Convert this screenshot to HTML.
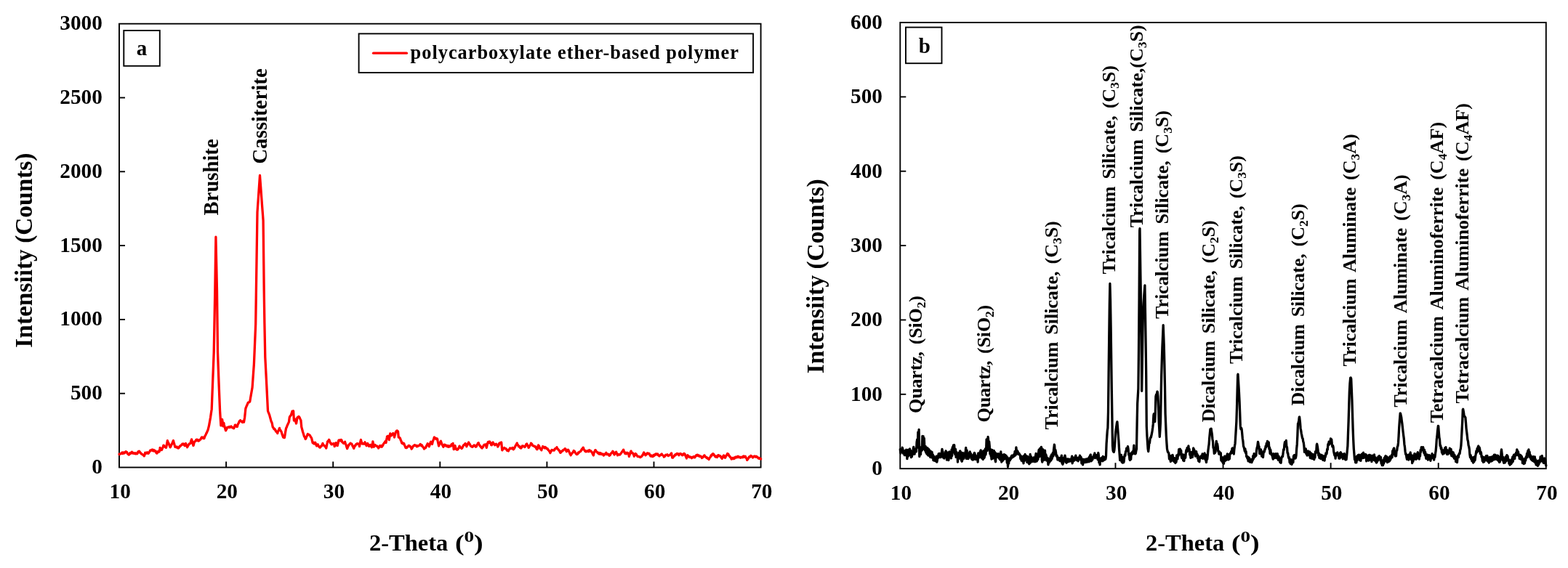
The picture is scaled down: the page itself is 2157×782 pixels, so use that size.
<!DOCTYPE html>
<html lang="en">
<head>
<meta charset="utf-8">
<title>XRD patterns</title>
<style>
html,body{margin:0;padding:0;background:#fff;}
body{width:2157px;height:782px;overflow:hidden;font-family:"Liberation Serif", serif;}
svg{display:block;}
</style>
</head>
<body>
<svg width="2157" height="782" viewBox="0 0 2157 782" font-family='"Liberation Serif", serif' font-weight="bold" fill="#000">
<rect width="2157" height="782" fill="#fff"/>
<rect x="164.0" y="32.7" width="882.60" height="610.80" fill="none" stroke="#000" stroke-width="1.9"/>
<g stroke="#000" stroke-width="1.9">
<line x1="311.10" y1="643.5" x2="311.10" y2="635.5"/>
<line x1="458.20" y1="643.5" x2="458.20" y2="635.5"/>
<line x1="605.30" y1="643.5" x2="605.30" y2="635.5"/>
<line x1="752.40" y1="643.5" x2="752.40" y2="635.5"/>
<line x1="899.50" y1="643.5" x2="899.50" y2="635.5"/>
<line x1="164.0" y1="541.70" x2="172.0" y2="541.70"/>
<line x1="164.0" y1="439.90" x2="172.0" y2="439.90"/>
<line x1="164.0" y1="338.10" x2="172.0" y2="338.10"/>
<line x1="164.0" y1="236.30" x2="172.0" y2="236.30"/>
<line x1="164.0" y1="134.50" x2="172.0" y2="134.50"/>
</g>
<text x="165.20" y="686.2" font-size="29" text-anchor="middle" textLength="29.29" lengthAdjust="spacingAndGlyphs">10</text>
<text x="312.30" y="686.2" font-size="29" text-anchor="middle" textLength="29.29" lengthAdjust="spacingAndGlyphs">20</text>
<text x="459.40" y="686.2" font-size="29" text-anchor="middle" textLength="29.29" lengthAdjust="spacingAndGlyphs">30</text>
<text x="606.50" y="686.2" font-size="29" text-anchor="middle" textLength="29.29" lengthAdjust="spacingAndGlyphs">40</text>
<text x="753.60" y="686.2" font-size="29" text-anchor="middle" textLength="29.29" lengthAdjust="spacingAndGlyphs">50</text>
<text x="900.70" y="686.2" font-size="29" text-anchor="middle" textLength="29.29" lengthAdjust="spacingAndGlyphs">60</text>
<text x="1047.80" y="686.2" font-size="29" text-anchor="middle" textLength="29.29" lengthAdjust="spacingAndGlyphs">70</text>
<text x="140.9" y="652.00" font-size="29" text-anchor="end" textLength="14.64" lengthAdjust="spacingAndGlyphs">0</text>
<text x="140.9" y="550.20" font-size="29" text-anchor="end" textLength="43.94" lengthAdjust="spacingAndGlyphs">500</text>
<text x="140.9" y="448.40" font-size="29" text-anchor="end" textLength="58.58" lengthAdjust="spacingAndGlyphs">1000</text>
<text x="140.9" y="346.60" font-size="29" text-anchor="end" textLength="58.58" lengthAdjust="spacingAndGlyphs">1500</text>
<text x="140.9" y="244.80" font-size="29" text-anchor="end" textLength="58.58" lengthAdjust="spacingAndGlyphs">2000</text>
<text x="140.9" y="143.00" font-size="29" text-anchor="end" textLength="58.58" lengthAdjust="spacingAndGlyphs">2500</text>
<text x="140.9" y="41.20" font-size="29" text-anchor="end" textLength="58.58" lengthAdjust="spacingAndGlyphs">3000</text>
<polyline fill="none" stroke="#ff0000" stroke-width="3.3" stroke-linejoin="round" stroke-linecap="round" points="164.0,625.1 164.0,625.6 164.7,625.4 165.4,624.7 166.1,624.8 166.8,624.5 166.9,624.2 167.5,623.3 168.2,623.0 168.9,624.5 169.6,623.2 170.3,623.0 170.4,623.5 171.0,624.0 171.7,622.6 172.4,622.8 173.1,621.6 173.2,621.6 173.8,622.5 174.5,622.4 175.2,624.0 175.9,625.2 176.6,625.4 177.0,625.8 177.3,626.1 178.0,625.4 178.7,623.8 179.4,624.5 180.1,623.6 180.7,623.0 180.8,622.6 181.5,622.2 182.2,624.0 182.9,623.3 183.6,624.0 184.2,623.7 184.3,624.4 185.0,624.2 185.7,624.7 186.4,623.8 187.1,624.7 187.8,624.1 188.2,624.2 188.5,624.8 189.2,624.1 189.9,622.1 190.6,621.5 191.3,621.1 191.7,621.4 192.0,622.7 192.7,622.6 193.4,623.8 194.1,624.2 194.5,625.0 194.8,625.2 195.5,625.4 196.2,625.7 196.9,626.5 197.6,627.0 198.3,627.8 198.6,627.3 199.0,626.0 199.7,623.7 199.7,623.1 200.4,623.7 201.1,624.2 201.8,623.6 202.5,622.7 203.2,624.1 203.9,624.4 204.3,623.5 204.6,623.9 205.3,622.4 206.0,621.7 206.7,620.0 207.2,619.9 207.4,620.5 208.1,620.0 208.8,619.4 209.5,619.0 210.2,620.6 210.6,619.9 210.9,620.9 211.6,619.4 212.3,621.1 213.0,620.6 213.5,621.0 213.7,620.7 214.4,621.9 215.1,623.8 215.3,623.5 215.8,624.0 216.5,622.0 217.2,622.8 217.9,621.4 218.6,622.1 219.3,621.6 219.3,621.3 220.0,617.5 220.1,616.4 220.7,617.8 221.4,617.8 222.1,619.6 222.7,619.3 222.8,618.8 223.5,616.9 224.2,615.7 224.9,613.1 225.0,613.5 225.6,613.4 226.3,614.4 227.0,615.4 227.7,615.1 228.4,615.8 228.5,616.4 229.1,613.6 229.8,609.7 230.4,606.6 230.5,607.4 231.2,609.2 231.9,610.0 232.6,611.8 233.3,613.6 234.0,615.5 234.2,615.8 234.7,615.0 235.4,613.4 236.1,611.9 236.8,610.7 237.5,608.8 238.2,607.1 238.5,606.6 238.9,608.4 239.6,610.7 240.3,613.4 240.6,614.7 241.0,615.4 241.7,615.3 242.4,615.7 243.1,615.0 243.8,616.1 244.5,616.8 245.2,617.0 245.2,616.0 245.9,616.5 246.6,615.8 247.3,614.2 248.0,614.4 248.6,613.5 248.7,613.4 249.4,613.0 250.1,611.8 250.8,611.8 250.9,611.2 251.5,612.0 252.2,610.9 252.9,611.4 253.6,612.9 254.3,613.8 254.4,612.9 255.0,611.2 255.5,610.6 255.7,611.0 256.4,612.9 257.1,614.3 257.6,615.8 257.8,615.2 258.5,613.9 259.2,612.8 259.9,611.8 260.1,611.2 260.6,610.8 261.3,610.7 261.9,610.6 262.0,610.5 262.7,607.2 263.4,605.7 263.6,604.9 264.1,607.1 264.8,609.2 265.5,611.6 265.9,613.5 266.2,613.2 266.9,610.2 267.6,608.1 267.6,608.3 268.3,607.6 269.0,607.3 269.7,605.6 270.4,605.2 270.5,605.5 271.1,605.3 271.8,606.6 272.5,606.0 273.2,607.1 273.9,606.0 274.0,606.6 274.6,605.6 275.3,605.3 276.0,604.8 276.7,603.3 277.4,602.1 277.4,602.6 278.1,602.0 278.8,602.9 279.5,602.3 280.2,603.6 280.9,603.2 280.9,603.6 281.6,601.2 282.3,599.8 283.0,598.7 283.7,597.1 283.7,596.8 284.4,595.8 285.1,594.0 285.8,592.5 286.0,592.2 286.5,590.2 287.2,587.3 287.8,584.7 287.9,583.9 288.6,580.0 289.3,576.1 289.5,575.0 290.0,571.5 290.7,566.8 291.2,563.4 291.4,558.2 292.1,539.9 292.8,521.7 293.5,503.4 294.2,485.2 294.2,485.2 294.9,447.9 295.6,410.6 295.8,400.0 296.3,366.5 296.9,326.2 297.0,330.9 297.7,363.1 298.4,395.4 298.5,400.0 299.1,451.0 299.5,485.0 299.8,493.3 300.5,512.5 301.1,529.0 301.2,531.5 301.9,548.7 302.6,566.0 302.6,566.0 303.3,576.8 303.9,585.9 304.0,585.4 304.7,581.6 305.4,578.9 305.6,577.3 306.1,580.3 306.8,586.5 306.8,586.8 307.5,584.1 307.9,582.4 308.2,584.3 308.9,587.2 309.1,587.6 309.6,589.7 310.3,592.0 310.6,592.8 311.0,590.9 311.7,590.9 312.4,588.6 312.5,588.8 313.1,588.2 313.8,588.6 314.5,588.0 315.2,587.5 315.4,587.6 315.9,588.5 316.6,587.8 317.3,587.2 318.0,586.9 318.3,587.4 318.7,588.4 319.4,588.1 320.1,589.1 320.8,588.8 321.5,589.0 321.7,589.7 322.2,588.4 322.9,586.7 323.2,585.3 323.6,585.0 324.3,586.5 325.0,587.1 325.7,587.3 326.3,587.1 326.4,587.4 327.1,584.4 327.8,583.3 328.1,582.4 328.5,582.2 329.2,580.1 329.9,579.3 330.4,579.0 330.6,578.7 331.3,579.8 332.0,580.1 332.7,580.7 332.7,580.7 333.4,581.4 334.1,580.0 334.8,580.5 335.5,581.1 335.5,581.3 336.2,577.3 336.6,575.0 336.9,572.0 337.6,565.3 337.9,562.3 338.3,561.5 339.0,559.5 339.7,558.1 340.4,556.3 341.1,554.7 341.4,554.2 341.8,553.8 342.5,553.9 343.2,553.4 343.7,553.1 343.9,551.9 344.6,547.8 345.3,543.8 346.0,539.8 346.7,535.8 347.1,533.5 347.4,529.3 348.1,519.5 348.8,509.7 349.4,501.3 349.5,498.9 350.2,482.1 350.9,465.2 351.6,448.4 351.7,446.0 352.3,406.6 352.4,400.0 353.0,359.6 353.7,312.4 354.0,292.2 354.4,286.4 355.1,276.3 355.8,266.1 356.5,256.0 357.2,245.8 357.5,241.5 357.9,247.0 358.6,256.4 359.3,265.8 360.0,275.3 360.7,284.8 361.4,294.2 362.1,303.7 362.1,303.7 362.8,365.0 363.2,400.0 363.5,419.7 363.9,446.0 364.2,461.3 364.8,492.0 364.9,493.9 365.6,507.6 366.3,521.2 366.7,529.0 367.0,535.1 367.7,549.4 368.4,563.6 368.5,565.7 369.1,567.3 369.8,569.0 370.5,571.0 370.8,571.5 371.2,573.2 371.9,575.7 372.6,578.4 372.9,579.6 373.3,580.5 374.0,582.0 374.3,583.0 374.7,585.2 375.3,588.2 375.4,588.0 376.1,588.9 376.8,590.5 377.5,590.2 378.1,591.7 378.2,591.2 378.9,592.1 379.6,594.1 380.3,594.0 381.0,594.5 381.6,596.3 381.7,596.6 382.4,593.8 383.1,592.9 383.8,591.2 384.5,589.4 384.5,590.1 385.2,591.6 385.9,592.3 386.6,593.9 386.8,594.0 387.3,595.1 388.0,597.6 388.7,599.4 389.4,601.6 389.6,602.0 390.1,601.5 390.8,602.7 391.4,602.6 391.5,602.0 392.2,597.4 392.9,593.2 393.5,589.9 393.6,589.6 394.3,588.2 395.0,586.2 395.7,584.6 395.8,584.7 396.4,583.1 397.1,581.7 397.5,580.7 397.8,578.3 398.3,574.4 398.5,574.0 399.2,573.0 399.9,572.0 400.4,571.5 400.6,570.7 401.3,568.6 402.0,566.1 402.1,566.3 402.7,566.1 403.4,566.0 403.6,565.8 404.1,574.2 404.4,579.0 404.8,578.7 405.5,577.6 406.1,577.3 406.2,577.9 406.9,581.0 407.5,583.0 407.6,582.8 408.3,578.7 409.0,575.0 409.0,574.9 409.7,574.5 410.4,574.5 410.5,573.6 411.1,573.5 411.8,574.3 412.4,575.5 412.5,575.9 413.2,577.4 413.9,578.9 413.9,579.0 414.6,586.0 414.7,587.6 415.3,589.9 416.0,592.5 416.5,594.5 416.7,595.1 417.4,597.2 418.1,599.6 418.5,600.9 418.8,601.2 419.5,602.5 420.2,604.3 420.2,604.6 420.9,603.6 421.6,601.3 422.2,600.3 422.3,600.3 423.0,598.2 423.4,597.4 423.7,598.3 424.4,598.3 425.1,598.3 425.7,599.1 425.8,598.9 426.5,599.6 427.2,601.2 427.9,602.1 428.6,603.2 428.6,603.1 429.3,606.2 430.0,609.1 430.1,609.5 430.7,610.1 431.4,609.2 432.0,610.1 432.1,611.0 432.8,609.7 433.5,609.6 433.7,609.3 434.2,610.4 434.9,612.6 435.5,613.5 435.6,614.0 436.3,612.8 437.0,612.0 437.2,611.8 437.7,613.1 438.4,614.4 439.1,615.0 439.5,615.8 439.8,616.1 440.5,616.1 441.2,614.7 441.9,614.0 442.4,614.1 442.6,613.2 443.3,612.2 443.9,610.4 444.0,610.9 444.7,612.5 445.4,613.1 446.1,613.3 446.4,614.1 446.8,614.2 447.5,615.0 448.2,615.8 448.7,617.0 448.9,616.2 449.6,612.7 450.3,609.2 450.4,608.3 451.0,607.4 451.7,607.4 452.4,605.5 452.7,605.5 453.1,606.3 453.8,608.6 454.5,610.1 454.5,609.6 455.2,610.0 455.9,611.8 456.6,611.3 456.8,611.8 457.3,611.2 458.0,611.3 458.7,611.1 459.1,610.6 459.4,610.9 460.1,613.9 460.2,614.7 460.8,612.9 461.5,611.0 461.9,609.7 462.2,609.6 462.9,611.5 463.6,613.4 464.2,613.5 464.3,613.1 465.0,610.3 465.7,606.9 466.0,606.0 466.4,605.9 467.1,606.7 467.7,606.6 467.8,605.8 468.5,606.9 469.2,606.4 469.4,605.5 469.9,605.8 470.6,608.4 471.2,608.9 471.3,608.8 472.0,610.0 472.7,610.5 472.9,610.1 473.4,609.1 474.1,609.2 474.6,608.3 474.8,609.2 475.5,611.3 476.2,613.0 476.9,615.6 477.5,617.0 477.6,617.7 478.3,615.9 479.0,614.4 479.7,612.6 479.8,612.9 480.4,612.2 481.1,611.1 481.8,610.8 482.1,610.1 482.5,610.8 483.2,611.1 483.9,611.2 484.2,611.8 484.6,613.0 485.3,614.5 486.0,615.4 486.5,617.0 486.7,617.3 487.4,615.6 488.1,613.6 488.4,613.5 488.8,613.8 489.5,611.9 490.2,611.5 490.9,611.5 491.3,610.6 491.6,610.9 492.3,611.0 493.0,611.3 493.6,611.2 493.7,611.5 494.4,613.9 494.5,614.7 495.1,611.6 495.8,608.2 496.5,605.5 496.5,605.9 497.2,608.1 497.9,609.8 498.2,610.6 498.6,611.1 499.3,610.7 500.0,610.6 500.5,611.2 500.7,610.8 501.4,611.1 502.1,608.8 502.2,609.5 502.8,610.8 503.5,612.0 504.0,613.5 504.2,613.7 504.9,611.7 505.6,610.5 505.7,610.6 506.3,611.7 507.0,613.4 507.4,614.1 507.7,614.5 508.4,613.3 509.1,613.9 509.7,612.9 509.8,612.4 510.5,613.8 511.2,614.9 511.4,615.8 511.9,612.8 512.6,610.1 512.9,607.8 513.3,610.2 514.0,613.0 514.3,615.3 514.7,614.1 515.4,613.3 516.0,612.4 516.1,612.9 516.8,613.6 517.5,613.9 518.2,614.1 518.3,614.1 518.9,614.2 519.6,615.5 520.3,615.9 520.6,617.0 521.0,616.4 521.7,615.3 522.4,614.1 522.4,613.6 523.1,613.8 523.8,614.9 524.5,613.6 525.2,615.2 525.3,614.7 525.9,614.3 526.6,613.3 527.3,611.5 527.6,611.2 528.0,610.6 528.7,609.6 529.4,608.7 529.9,607.8 530.1,608.8 530.8,609.4 531.0,609.5 531.5,606.5 532.2,602.8 532.5,600.9 532.9,600.7 533.6,600.6 533.9,600.3 534.3,602.3 535.0,603.6 535.3,605.5 535.7,603.3 536.4,599.1 536.8,596.8 537.1,597.4 537.8,598.6 538.5,599.7 538.5,599.6 539.2,598.2 539.9,597.9 540.2,597.4 540.6,596.6 541.3,597.8 541.9,598.0 542.0,598.7 542.5,602.0 542.7,601.2 543.4,598.6 544.1,596.0 544.2,595.1 544.8,594.9 545.5,593.1 546.2,593.5 546.3,592.8 546.9,593.5 547.5,594.0 547.6,595.0 548.3,602.0 548.3,602.0 549.0,602.4 549.7,602.5 550.4,603.7 550.6,603.7 551.1,605.6 551.8,606.9 552.5,609.4 552.9,610.1 553.2,610.4 553.9,609.6 554.6,611.1 555.3,610.7 555.8,610.6 556.0,611.8 556.7,613.2 557.4,615.0 558.1,616.4 558.1,616.1 558.8,616.6 559.5,616.5 560.2,616.0 560.4,615.3 560.9,614.6 561.6,614.5 562.1,613.5 562.3,613.7 563.0,613.5 563.7,614.0 564.4,615.3 564.4,614.7 565.1,615.9 565.8,616.9 566.1,618.1 566.5,617.5 567.2,616.5 567.9,615.1 568.4,614.1 568.6,613.9 569.3,613.8 570.0,612.8 570.7,612.7 570.7,612.7 571.4,613.6 572.1,613.4 572.8,613.3 573.0,614.1 573.5,614.9 574.2,614.5 574.9,613.8 575.3,614.1 575.6,613.7 576.3,613.6 577.0,613.3 577.7,612.1 578.2,612.4 578.4,611.5 579.1,612.3 579.8,613.7 580.5,613.0 580.5,613.5 581.2,614.6 581.9,615.4 582.6,616.4 583.3,617.4 583.4,618.1 584.0,617.5 584.7,616.6 585.4,616.0 585.7,616.4 586.1,615.0 586.8,613.5 587.5,612.3 588.0,611.2 588.2,610.7 588.9,611.7 589.6,613.5 590.3,614.7 590.3,614.5 591.0,613.0 591.7,610.3 592.4,608.7 592.6,608.3 593.1,609.0 593.8,609.4 594.3,611.2 594.5,611.4 595.2,608.3 595.9,606.2 596.0,606.0 596.6,604.5 597.3,602.1 597.5,602.0 598.0,602.8 598.7,603.1 599.4,603.5 599.5,604.3 600.1,603.5 600.8,604.6 601.5,604.1 601.6,604.3 602.2,607.5 602.9,610.6 603.5,613.5 603.6,614.0 604.3,611.7 605.0,610.4 605.0,610.6 605.7,608.6 606.4,607.8 606.4,607.2 607.1,609.5 607.8,611.2 608.1,612.4 608.5,612.4 609.2,613.9 609.9,615.4 610.1,614.7 610.6,614.3 611.3,612.3 611.6,612.9 612.0,612.3 612.7,612.8 613.4,613.4 613.9,614.3 614.1,613.4 614.8,613.4 615.5,614.6 616.2,615.1 616.9,613.7 617.3,614.3 617.6,615.2 618.3,614.0 619.0,614.5 619.7,614.4 620.2,613.5 620.4,614.1 621.1,611.8 621.8,611.4 622.5,611.2 623.1,610.4 623.2,611.7 623.9,615.6 624.2,618.7 624.6,617.2 625.3,615.7 625.7,613.5 626.0,613.6 626.7,616.5 627.1,618.1 627.4,618.0 628.1,618.7 628.8,619.3 629.5,618.1 629.8,618.7 630.2,618.2 630.9,616.8 631.6,615.6 632.1,614.1 632.3,614.5 633.0,616.0 633.7,615.8 634.4,616.7 635.0,617.6 635.1,616.8 635.8,616.8 636.5,615.2 637.2,613.9 637.9,612.7 638.4,612.4 638.6,612.5 639.3,611.7 640.0,611.2 640.1,610.6 640.7,611.8 641.4,613.6 641.9,614.7 642.1,613.5 642.8,613.1 643.5,610.9 644.2,610.0 644.7,608.9 644.9,609.7 645.6,610.9 646.3,611.5 647.0,613.0 647.1,613.5 647.7,614.4 648.4,614.3 649.1,615.1 649.8,615.4 649.9,614.7 650.5,614.2 651.2,614.5 651.9,613.7 652.2,612.9 652.6,613.0 653.3,613.8 654.0,613.9 654.5,615.3 654.7,614.8 655.4,614.7 656.1,612.4 656.8,612.0 657.5,610.1 658.0,610.1 658.2,609.6 658.9,611.9 659.6,612.6 660.3,614.1 660.3,613.5 661.0,614.3 661.7,615.7 662.4,616.4 663.1,616.0 663.2,617.0 663.8,615.5 664.5,615.5 665.2,613.3 665.9,612.7 666.0,612.4 666.6,612.1 667.3,612.6 668.0,612.0 668.3,611.8 668.7,614.1 669.3,616.4 669.4,616.0 670.1,612.8 670.8,610.3 671.2,608.9 671.5,608.4 672.2,609.5 672.9,608.2 673.6,608.0 674.1,608.9 674.3,610.0 675.0,610.1 675.7,612.4 676.4,612.1 676.4,612.9 677.1,611.3 677.8,609.2 678.1,608.9 678.5,610.1 679.2,610.7 679.9,611.8 680.4,612.4 680.6,612.8 681.3,612.7 682.0,611.3 682.7,611.4 682.7,611.2 683.4,612.1 684.1,612.6 684.8,615.0 685.0,614.7 685.5,613.8 686.2,612.4 686.8,610.6 686.9,610.2 687.6,610.2 688.3,609.7 689.0,609.5 689.6,608.9 689.7,609.2 690.4,616.0 690.8,619.9 691.1,619.5 691.8,617.8 692.5,617.9 693.2,617.4 693.7,616.4 693.9,616.4 694.6,617.4 695.3,617.8 696.0,618.1 696.0,617.7 696.7,618.5 697.4,620.2 698.1,619.6 698.8,620.3 699.4,621.0 699.5,620.1 700.2,619.2 700.9,618.0 701.6,617.9 701.7,617.0 702.3,617.3 703.0,617.5 703.7,617.6 704.4,616.8 705.1,617.2 705.2,616.4 705.8,617.7 706.3,618.7 706.5,618.2 707.2,617.9 707.9,616.3 708.6,615.1 709.2,613.5 709.3,613.4 710.0,612.6 710.7,610.9 711.3,610.1 711.4,611.3 712.1,612.4 712.8,612.9 713.2,614.1 713.5,614.9 714.2,614.4 714.9,614.8 715.6,616.5 716.3,616.2 716.7,617.0 717.0,616.6 717.7,616.0 718.4,614.0 719.0,614.1 719.1,614.6 719.8,614.0 720.5,614.6 721.2,614.7 721.9,615.3 721.9,615.7 722.6,614.6 723.3,613.0 724.0,611.5 724.7,610.9 724.7,611.2 725.4,612.6 726.1,613.7 726.8,615.2 727.1,616.4 727.5,616.1 728.2,614.6 728.9,613.5 729.6,612.4 730.3,611.2 730.5,610.1 731.0,610.6 731.7,611.3 732.4,612.6 732.8,613.5 733.1,613.6 733.8,613.9 734.5,614.2 735.2,614.1 735.9,615.2 736.3,614.7 736.6,614.8 737.3,616.1 738.0,617.8 738.7,618.7 739.1,618.7 739.4,617.4 740.1,614.6 740.6,612.9 740.8,613.9 741.5,613.9 742.2,615.8 742.6,617.0 742.9,617.4 743.6,618.3 744.3,618.4 744.9,619.9 745.0,618.8 745.7,617.0 746.4,615.7 746.6,614.7 747.1,614.9 747.8,616.2 748.5,616.2 749.2,616.9 749.9,615.5 750.1,616.4 750.6,616.2 751.3,616.3 752.0,617.6 752.7,617.9 753.4,617.9 753.5,618.7 754.1,619.5 754.8,619.8 755.5,621.1 756.2,621.8 756.9,623.8 757.0,623.3 757.6,622.2 758.3,621.0 759.0,619.5 759.3,619.9 759.7,619.7 760.4,619.9 761.1,619.9 761.8,620.2 762.5,619.9 762.7,619.3 763.2,618.3 763.9,617.4 764.6,617.7 765.3,617.1 766.0,615.8 766.0,615.9 766.7,617.6 767.4,618.2 768.1,618.9 768.5,619.9 768.8,619.8 769.5,620.4 770.2,622.3 770.8,622.7 770.9,623.4 771.6,622.8 772.3,621.4 773.0,621.2 773.7,621.1 774.2,619.9 774.4,620.3 775.1,619.6 775.8,618.9 776.5,618.8 777.2,617.7 777.7,618.1 777.9,617.9 778.6,620.0 779.3,621.7 779.4,621.0 780.0,620.7 780.7,619.9 781.4,619.2 781.7,619.3 782.1,620.0 782.8,621.9 783.5,623.1 784.2,625.2 784.9,625.5 785.2,626.8 785.6,625.7 786.3,625.0 787.0,623.8 787.7,623.2 788.4,622.2 789.1,621.5 789.2,620.4 789.8,621.4 790.5,621.4 791.2,623.1 791.9,624.0 792.6,624.8 793.2,625.6 793.3,625.1 794.0,625.4 794.7,625.1 795.4,623.1 796.1,623.5 796.7,622.7 796.8,622.4 797.5,621.9 798.2,621.9 798.9,621.2 799.6,619.9 799.6,620.0 800.3,618.5 801.0,618.8 801.7,616.7 802.4,616.2 802.4,616.4 803.1,618.4 803.8,619.3 804.2,620.4 804.5,620.2 805.2,621.6 805.9,621.9 806.6,620.9 807.3,621.3 807.6,621.6 808.0,621.0 808.7,620.5 809.4,620.5 810.1,621.7 810.8,619.7 811.1,620.4 811.5,620.2 812.2,620.6 812.9,620.9 813.6,622.2 814.3,622.9 814.5,622.7 815.0,624.3 815.7,625.7 816.3,626.8 816.4,626.9 817.1,623.7 817.8,621.9 818.5,620.8 818.6,619.9 819.2,619.6 819.9,620.8 820.6,621.9 821.3,622.2 822.0,623.4 822.6,623.9 822.7,623.1 823.4,623.5 824.1,625.0 824.8,623.5 825.5,625.1 826.2,623.7 826.9,625.4 827.2,624.5 827.6,625.1 828.3,625.5 829.0,625.0 829.7,625.3 830.4,627.1 830.6,626.8 831.1,625.7 831.8,625.1 832.5,625.5 833.2,624.9 833.5,623.9 833.9,623.3 834.6,625.6 835.3,625.3 835.8,625.6 836.0,625.4 836.7,625.1 837.4,625.9 838.1,627.3 838.8,626.2 839.3,626.8 839.5,625.8 840.2,624.8 840.9,623.9 841.6,623.1 842.3,623.0 842.7,621.6 843.0,621.2 843.7,622.5 844.4,624.9 845.0,625.0 845.1,626.0 845.8,625.1 846.5,623.0 847.2,622.4 847.7,622.2 847.9,623.4 848.6,624.3 849.3,626.3 849.6,626.8 850.0,626.3 850.7,625.4 851.4,625.7 852.1,626.2 852.8,625.9 853.5,625.2 853.7,625.0 854.2,624.2 854.9,623.2 855.6,622.1 856.3,621.1 857.0,620.7 857.1,619.9 857.5,619.3 857.7,619.2 858.4,621.3 859.1,623.1 859.8,623.9 859.8,624.4 860.5,623.3 861.2,624.8 861.9,624.6 862.6,623.2 863.3,623.5 863.8,623.9 864.0,623.9 864.7,625.2 865.4,628.5 865.5,627.9 866.1,626.2 866.8,624.9 867.5,622.0 867.8,621.6 868.2,621.0 868.9,623.2 869.6,623.5 870.3,624.2 870.7,623.9 871.0,624.8 871.7,626.2 872.4,628.3 872.4,627.9 873.1,625.8 873.8,625.3 874.2,624.5 874.5,624.8 875.2,625.3 875.9,627.0 876.6,627.6 877.1,628.5 877.3,628.6 878.0,628.4 878.7,628.5 879.4,628.7 879.9,629.1 880.1,629.2 880.8,629.6 881.5,629.1 882.2,628.6 882.9,628.1 883.4,627.3 883.6,626.7 884.3,626.5 885.0,624.4 885.7,622.9 885.9,623.3 886.4,624.1 887.1,625.7 887.8,626.1 888.0,626.8 888.5,626.4 889.2,624.9 889.9,625.2 890.3,623.9 890.6,623.9 891.3,624.0 892.0,624.3 892.7,625.0 893.2,624.5 893.4,625.6 894.1,626.4 894.8,627.6 894.9,627.9 895.5,628.1 896.2,627.1 896.9,627.8 897.6,628.6 898.3,628.4 898.3,627.9 899.0,626.6 899.7,627.4 900.4,626.1 901.1,626.6 901.2,625.6 901.8,625.3 902.5,624.8 903.2,625.4 903.9,625.9 904.6,624.9 904.7,625.0 905.3,626.4 906.0,627.1 906.7,627.3 907.0,627.9 907.4,627.2 908.1,627.0 908.8,626.2 909.5,625.6 910.2,625.5 910.4,625.0 910.9,626.4 911.6,626.8 912.3,627.1 913.0,628.1 913.3,629.1 913.7,628.5 914.4,628.4 915.1,627.0 915.8,626.3 916.2,626.8 916.5,626.4 917.2,626.3 917.9,625.8 918.6,626.8 919.3,627.6 920.0,626.8 920.2,626.8 920.7,626.8 921.4,626.4 922.1,625.8 922.8,625.4 923.5,624.0 923.7,623.9 924.2,627.0 924.8,630.2 924.9,629.7 925.6,630.1 926.3,628.5 927.0,628.0 927.7,627.3 927.7,628.0 928.4,626.4 929.1,625.7 929.8,626.3 930.5,625.3 930.6,625.0 931.2,624.4 931.9,624.6 932.6,625.4 933.3,625.0 934.0,626.8 934.0,626.2 934.7,625.1 935.4,624.7 936.1,624.4 936.3,624.5 936.8,625.0 937.5,625.5 938.2,626.6 938.6,626.8 938.9,626.9 939.6,625.9 940.3,624.7 941.0,625.8 941.5,624.5 941.7,625.2 942.4,625.7 943.1,627.6 943.8,629.5 944.4,630.2 944.5,631.0 945.2,628.0 945.9,626.8 946.1,627.3 946.6,627.6 947.3,627.9 948.0,629.2 948.7,629.5 949.0,629.1 949.4,628.9 950.1,629.4 950.8,629.9 951.5,630.8 951.9,630.2 952.2,629.5 952.9,629.7 953.6,628.9 954.3,629.8 955.0,628.4 955.7,629.9 955.9,629.1 956.4,628.7 957.1,628.2 957.8,626.8 958.5,626.4 959.2,626.3 959.4,626.2 959.9,627.2 960.6,626.9 961.3,626.8 962.0,628.4 962.7,628.2 962.8,627.9 963.4,628.4 964.1,628.2 964.8,628.9 965.5,630.5 966.2,629.5 966.3,630.2 966.9,629.5 967.6,628.8 968.3,627.5 969.0,627.5 969.1,626.8 969.7,628.2 970.4,628.8 971.1,629.5 971.8,629.5 972.0,630.2 972.5,629.9 973.2,631.1 973.9,631.4 974.6,631.7 974.9,632.5 975.3,632.5 976.0,630.3 976.7,630.0 977.4,629.1 977.8,627.9 978.1,627.0 978.8,627.5 979.5,626.0 980.2,624.9 980.6,625.0 980.9,624.7 981.6,625.1 982.3,626.7 983.0,627.2 983.5,627.9 983.7,628.6 984.4,629.0 985.1,628.0 985.8,629.1 986.4,629.6 986.5,629.3 987.2,627.7 987.9,626.7 988.1,626.8 988.6,626.6 989.3,627.8 990.0,627.6 990.7,627.6 991.0,628.5 991.4,628.5 992.1,629.8 992.8,630.9 993.3,631.4 993.5,630.5 994.2,629.9 994.9,627.7 995.6,627.1 995.6,626.8 996.3,628.4 997.0,628.9 997.3,630.2 997.7,630.1 998.4,628.3 999.1,627.3 999.8,626.3 1000.5,625.2 1000.8,624.5 1001.2,624.8 1001.9,625.0 1002.6,627.0 1003.3,628.0 1003.7,627.9 1004.0,628.4 1004.7,629.6 1005.4,630.1 1006.0,631.4 1006.1,632.1 1006.8,631.6 1007.5,630.5 1008.2,631.5 1008.8,630.8 1008.9,631.7 1009.6,630.2 1010.3,631.3 1011.0,630.0 1011.7,629.2 1012.3,629.6 1012.4,630.0 1013.1,629.1 1013.8,629.7 1014.5,629.3 1015.2,628.2 1015.8,628.8 1015.9,628.9 1016.6,629.7 1017.3,629.2 1018.0,629.4 1018.7,630.2 1019.2,629.6 1019.4,629.5 1020.1,629.4 1020.8,629.4 1021.5,629.7 1022.2,628.4 1022.7,628.8 1022.9,628.0 1023.6,629.2 1024.3,628.7 1025.0,628.2 1025.5,628.5 1025.7,629.4 1026.4,630.5 1027.1,631.3 1027.8,633.4 1027.8,632.5 1028.5,632.5 1029.2,631.6 1029.9,630.1 1030.6,629.0 1030.7,629.6 1031.3,629.3 1032.0,628.8 1032.7,627.4 1033.0,627.3 1033.4,627.7 1034.1,628.5 1034.8,628.7 1035.3,629.6 1035.5,630.0 1036.2,629.4 1036.9,628.8 1037.6,628.0 1038.2,628.5 1038.3,628.6 1039.0,628.3 1039.7,629.2 1040.4,628.3 1041.1,629.1 1041.1,628.9 1041.8,629.1 1042.5,630.0 1043.2,630.9 1043.9,630.6 1044.0,631.4 1044.6,630.6 1045.3,631.6 1046.0,631.2 1046.6,631.9"/>
<rect x="170.3" y="42" width="49.5" height="48.8" fill="#fff" stroke="#000" stroke-width="1.9"/>
<text x="195" y="76" font-size="29" text-anchor="middle">a</text>
<rect x="493.6" y="46.4" width="542.5" height="53.6" fill="#fff" stroke="#000" stroke-width="1.9"/>
<line x1="513.5" y1="73.2" x2="559.5" y2="73.2" stroke="#ff0000" stroke-width="3.2" stroke-linecap="round"/>
<text x="564.6" y="81.3" font-size="26.4" textLength="451.3" lengthAdjust="spacing">polycarboxylate ether-based polymer</text>
<text transform="translate(300.4 296.4) rotate(-90)" font-size="29" text-anchor="start" textLength="105" lengthAdjust="spacingAndGlyphs">Brushite</text>
<text transform="translate(366.6 225.8) rotate(-90)" font-size="29" text-anchor="start" textLength="131.5" lengthAdjust="spacingAndGlyphs">Cassiterite</text>
<text x="508" y="758.2" font-size="32.5">2-Theta</text>
<text x="626.0" y="758.2" font-size="32.5" textLength="12.6" lengthAdjust="spacingAndGlyphs">(</text>
<text x="638.5" y="746.1" font-size="21.3" textLength="13.6" lengthAdjust="spacingAndGlyphs">0</text>
<text x="651.9" y="758.2" font-size="32.5" textLength="12.6" lengthAdjust="spacingAndGlyphs">)</text>
<text transform="translate(44.2 344.6) rotate(-90)" font-size="33.4" text-anchor="middle">Intensiity (Counts)</text>
<rect x="1238.3" y="31.0" width="888.50" height="614.20" fill="none" stroke="#000" stroke-width="1.9"/>
<g stroke="#000" stroke-width="1.9">
<line x1="1386.38" y1="645.2" x2="1386.38" y2="637.2"/>
<line x1="1534.47" y1="645.2" x2="1534.47" y2="637.2"/>
<line x1="1682.55" y1="645.2" x2="1682.55" y2="637.2"/>
<line x1="1830.63" y1="645.2" x2="1830.63" y2="637.2"/>
<line x1="1978.72" y1="645.2" x2="1978.72" y2="637.2"/>
<line x1="1238.3" y1="542.83" x2="1246.3" y2="542.83"/>
<line x1="1238.3" y1="440.47" x2="1246.3" y2="440.47"/>
<line x1="1238.3" y1="338.10" x2="1246.3" y2="338.10"/>
<line x1="1238.3" y1="235.73" x2="1246.3" y2="235.73"/>
<line x1="1238.3" y1="133.37" x2="1246.3" y2="133.37"/>
</g>
<text x="1239.50" y="687.8" font-size="29" text-anchor="middle" textLength="29.29" lengthAdjust="spacingAndGlyphs">10</text>
<text x="1387.58" y="687.8" font-size="29" text-anchor="middle" textLength="29.29" lengthAdjust="spacingAndGlyphs">20</text>
<text x="1535.67" y="687.8" font-size="29" text-anchor="middle" textLength="29.29" lengthAdjust="spacingAndGlyphs">30</text>
<text x="1683.75" y="687.8" font-size="29" text-anchor="middle" textLength="29.29" lengthAdjust="spacingAndGlyphs">40</text>
<text x="1831.83" y="687.8" font-size="29" text-anchor="middle" textLength="29.29" lengthAdjust="spacingAndGlyphs">50</text>
<text x="1979.92" y="687.8" font-size="29" text-anchor="middle" textLength="29.29" lengthAdjust="spacingAndGlyphs">60</text>
<text x="2128.00" y="687.8" font-size="29" text-anchor="middle" textLength="29.29" lengthAdjust="spacingAndGlyphs">70</text>
<text x="1214" y="654.20" font-size="29" text-anchor="end" textLength="14.64" lengthAdjust="spacingAndGlyphs">0</text>
<text x="1214" y="551.83" font-size="29" text-anchor="end" textLength="43.94" lengthAdjust="spacingAndGlyphs">100</text>
<text x="1214" y="449.47" font-size="29" text-anchor="end" textLength="43.94" lengthAdjust="spacingAndGlyphs">200</text>
<text x="1214" y="347.10" font-size="29" text-anchor="end" textLength="43.94" lengthAdjust="spacingAndGlyphs">300</text>
<text x="1214" y="244.73" font-size="29" text-anchor="end" textLength="43.94" lengthAdjust="spacingAndGlyphs">400</text>
<text x="1214" y="142.37" font-size="29" text-anchor="end" textLength="43.94" lengthAdjust="spacingAndGlyphs">500</text>
<text x="1214" y="40.00" font-size="29" text-anchor="end" textLength="43.94" lengthAdjust="spacingAndGlyphs">600</text>
<polyline fill="none" stroke="#000" stroke-width="3.3" stroke-linejoin="round" stroke-linecap="round" points="1238.3,618.7 1238.9,624.1 1239.5,619.1 1240.1,621.8 1240.7,618.2 1241.3,616.3 1241.9,618.4 1242.5,624.3 1243.1,622.3 1243.7,621.1 1244.3,626.7 1244.9,620.3 1245.5,626.5 1246.1,620.9 1246.7,619.2 1247.3,620.2 1247.9,631.6 1248.5,619.5 1249.1,628.5 1249.7,619.5 1250.3,627.2 1250.9,618.6 1251.5,618.0 1252.1,625.6 1252.7,620.1 1253.5,629.6 1253.9,627.7 1254.5,628.5 1255.1,621.6 1255.7,625.7 1256.3,617.6 1256.8,615.3 1257.5,620.0 1258.1,625.2 1258.7,619.8 1259.3,620.7 1259.9,618.3 1260.5,621.9 1261.1,608.7 1261.7,605.1 1262.3,616.2 1262.9,594.9 1263.5,610.7 1264.1,591.5 1264.8,628.5 1265.3,623.5 1265.9,625.7 1266.5,625.6 1267.1,616.3 1267.7,615.3 1268.3,620.1 1268.9,600.4 1269.5,618.1 1270.1,600.6 1270.7,617.6 1271.3,603.4 1271.9,617.1 1272.5,620.3 1273.1,614.4 1273.7,623.0 1274.3,616.0 1274.9,625.0 1275.5,617.2 1276.1,617.0 1276.7,626.9 1277.3,619.0 1277.9,618.7 1278.5,627.6 1279.1,620.3 1279.7,629.3 1280.3,628.7 1280.9,621.7 1281.5,629.8 1282.1,622.4 1282.7,630.1 1283.3,625.8 1283.9,633.5 1284.5,627.8 1285.1,634.0 1285.7,633.3 1286.3,630.1 1286.9,634.8 1287.5,634.1 1288.1,628.2 1288.8,636.2 1289.3,634.0 1289.9,627.7 1290.5,630.6 1291.1,625.0 1291.7,629.0 1292.3,624.5 1292.9,629.6 1293.5,624.9 1294.1,629.6 1294.7,628.5 1295.3,623.2 1296.0,618.4 1296.5,621.2 1297.1,622.3 1297.7,630.1 1298.3,625.1 1298.9,631.1 1299.5,625.7 1300.1,628.9 1300.7,622.6 1301.1,620.9 1301.9,622.6 1302.5,633.2 1303.1,624.6 1303.7,631.2 1304.3,622.8 1304.9,633.6 1305.5,629.6 1306.1,621.8 1306.7,629.3 1307.3,622.7 1307.9,624.5 1308.5,630.8 1309.1,618.9 1309.7,627.6 1310.3,615.6 1310.9,621.4 1311.5,612.8 1312.1,622.9 1312.7,612.7 1313.3,622.3 1313.9,625.8 1314.5,618.3 1315.1,629.3 1315.7,622.2 1316.3,628.6 1316.9,624.2 1317.5,636.2 1318.1,626.7 1318.7,625.6 1319.3,623.1 1319.9,631.2 1320.5,621.0 1320.8,620.9 1321.7,622.6 1322.3,633.1 1323.1,635.2 1323.5,635.0 1324.1,623.5 1324.7,632.2 1325.3,624.0 1325.9,631.3 1326.5,625.2 1327.1,625.7 1327.7,624.5 1328.3,620.7 1328.7,616.3 1329.5,631.4 1330.1,619.9 1330.7,630.6 1331.3,627.0 1331.9,631.7 1332.5,630.3 1333.1,626.1 1333.7,623.0 1334.3,621.9 1334.9,628.0 1335.5,624.3 1336.1,631.1 1336.7,628.2 1337.3,632.7 1337.9,627.0 1338.4,633.2 1339.1,631.4 1339.7,625.4 1340.5,623.5 1340.9,624.0 1341.5,632.3 1342.1,626.6 1342.7,632.3 1343.3,628.3 1343.9,630.6 1344.5,629.7 1345.1,636.2 1345.7,624.0 1346.3,624.4 1346.9,630.0 1347.5,628.3 1348.1,622.9 1348.7,621.3 1349.2,619.9 1349.9,630.2 1350.5,621.8 1351.1,627.7 1351.7,632.0 1352.3,632.5 1352.9,620.7 1353.5,630.9 1354.1,630.0 1354.7,627.5 1355.3,617.9 1355.9,626.0 1356.5,621.9 1357.1,604.9 1357.7,605.8 1358.3,620.4 1359.1,601.5 1359.5,604.0 1360.1,618.7 1360.7,607.9 1361.3,614.1 1361.9,625.0 1362.5,618.3 1363.1,627.6 1363.7,628.7 1364.0,632.1 1364.9,619.5 1365.5,631.3 1366.1,622.9 1366.7,630.4 1367.3,620.4 1367.9,630.6 1368.5,622.5 1369.1,633.9 1369.6,635.7 1370.3,624.1 1370.9,629.6 1371.5,627.3 1372.1,629.3 1372.7,625.6 1373.3,624.7 1373.9,625.3 1374.5,631.3 1375.1,625.8 1375.7,632.8 1376.3,625.0 1376.8,621.9 1377.5,632.6 1377.8,636.2 1378.7,626.2 1379.3,634.3 1379.9,633.0 1380.5,632.9 1381.1,625.7 1381.7,627.9 1382.3,631.7 1382.9,626.4 1383.5,631.8 1384.1,627.3 1384.7,629.1 1385.3,637.2 1385.9,629.7 1386.5,642.4 1387.1,634.1 1387.7,638.1 1388.3,631.2 1388.9,631.0 1389.5,633.7 1390.1,630.1 1390.7,631.7 1391.3,628.1 1391.9,627.2 1392.5,630.0 1393.1,627.2 1393.7,628.4 1394.3,628.7 1394.9,625.6 1395.5,627.7 1396.1,621.5 1396.7,626.9 1397.3,626.2 1397.9,616.0 1398.5,621.9 1399.1,624.5 1399.7,620.8 1400.3,622.4 1400.9,625.3 1401.5,624.0 1402.1,624.5 1402.7,626.3 1403.3,626.4 1403.9,631.7 1404.5,627.8 1405.1,634.0 1405.7,628.5 1406.3,629.7 1406.9,635.2 1407.5,630.5 1408.0,637.8 1408.7,627.3 1409.3,634.7 1410.1,625.5 1410.5,628.1 1411.1,627.2 1411.7,628.2 1412.3,628.1 1412.9,636.4 1413.5,628.3 1414.1,630.0 1414.7,637.2 1415.3,635.1 1415.7,638.8 1416.5,637.5 1417.2,625.5 1417.7,637.0 1418.3,628.4 1418.9,634.9 1419.5,630.6 1420.1,635.3 1420.7,630.7 1421.3,635.4 1421.9,630.0 1422.5,633.7 1423.1,630.2 1423.7,635.8 1424.3,629.0 1425.1,624.5 1425.5,624.7 1426.1,635.1 1426.7,634.3 1427.3,629.0 1427.9,632.5 1428.5,624.0 1429.1,619.4 1429.7,628.8 1430.3,617.7 1430.9,621.9 1431.5,627.8 1432.3,615.3 1432.7,615.9 1433.3,633.5 1433.8,636.2 1434.5,618.6 1435.1,619.4 1435.7,633.5 1436.3,620.8 1436.9,632.5 1437.5,620.1 1438.1,633.0 1438.7,625.7 1439.3,627.4 1439.9,634.2 1440.5,630.2 1441.1,630.6 1442.0,639.8 1442.3,637.3 1442.9,631.6 1443.5,636.7 1444.1,633.3 1444.7,634.9 1445.3,628.5 1445.9,633.8 1446.5,626.0 1447.1,631.7 1447.7,629.0 1448.3,623.3 1448.9,628.0 1449.5,619.3 1450.4,612.2 1450.7,613.5 1451.3,625.3 1451.9,619.4 1452.5,622.5 1453.1,628.1 1453.7,626.7 1454.3,628.0 1454.9,633.0 1455.5,629.9 1456.1,630.3 1456.7,633.0 1457.3,632.3 1457.9,634.5 1458.5,630.4 1459.1,634.9 1459.7,630.5 1460.4,627.1 1460.9,637.2 1461.5,638.5 1461.9,639.3 1462.7,637.0 1463.3,630.3 1463.9,633.9 1464.5,628.7 1465.0,627.1 1465.7,630.6 1466.3,636.2 1467.1,637.2 1467.5,635.3 1468.1,636.1 1468.7,631.8 1469.3,632.8 1469.9,635.6 1470.5,632.2 1471.1,635.2 1471.7,632.7 1472.3,634.8 1472.9,632.2 1473.5,634.9 1474.1,630.7 1474.7,628.1 1475.2,637.8 1475.9,634.3 1476.5,630.2 1477.1,634.7 1477.7,632.9 1478.3,630.0 1478.9,632.5 1479.5,628.1 1479.8,627.1 1480.7,633.6 1481.3,630.2 1481.9,632.4 1482.5,631.8 1483.1,634.8 1483.7,630.1 1484.3,629.8 1484.9,632.1 1485.5,627.1 1486.1,632.9 1486.7,628.8 1487.3,630.1 1487.9,637.9 1488.5,631.8 1489.1,637.7 1489.6,639.8 1490.3,632.3 1490.9,637.1 1491.5,632.6 1492.1,636.0 1492.7,632.8 1493.3,636.5 1493.9,632.2 1494.5,636.1 1495.1,631.8 1495.7,636.0 1496.3,632.7 1496.9,635.7 1497.5,630.7 1498.1,635.8 1498.7,628.7 1499.3,628.5 1499.9,626.5 1500.3,626.0 1501.1,634.8 1501.7,634.3 1502.3,629.6 1502.9,632.8 1503.5,630.0 1504.1,629.2 1504.7,626.7 1505.3,629.0 1505.9,624.0 1506.5,630.7 1507.1,628.9 1507.7,626.5 1508.3,628.8 1508.9,626.8 1509.5,630.3 1510.1,632.7 1510.8,623.5 1511.3,626.4 1511.9,637.0 1512.5,630.6 1513.1,639.8 1513.7,631.9 1514.3,632.7 1514.9,631.3 1515.5,630.2 1516.1,634.5 1516.7,634.8 1517.3,628.5 1517.9,634.0 1518.5,632.9 1519.1,629.6 1519.7,633.0 1520.3,629.2 1520.9,632.1 1521.5,627.8 1522.1,610.8 1522.7,602.2 1523.3,593.1 1523.9,589.2 1524.5,567.5 1525.1,514.2 1525.7,467.1 1526.3,420.4 1526.9,390.5 1527.5,412.3 1528.1,449.4 1528.7,493.4 1529.3,536.4 1529.9,575.0 1530.5,614.1 1531.1,620.3 1531.7,622.0 1532.3,622.4 1532.9,619.6 1533.5,613.0 1534.1,603.6 1534.7,594.6 1535.3,590.0 1535.9,586.1 1536.5,581.8 1536.9,580.7 1537.7,591.0 1538.3,599.2 1538.9,606.8 1539.5,617.5 1540.1,625.1 1540.7,633.7 1541.3,632.7 1541.9,628.1 1542.4,626.4 1543.1,636.0 1543.7,629.2 1544.3,637.1 1544.9,632.2 1545.5,636.9 1546.1,635.5 1546.7,629.0 1547.3,625.9 1547.9,627.4 1548.5,621.6 1549.1,621.6 1549.7,617.2 1550.3,620.4 1550.9,620.0 1551.5,614.7 1552.1,618.3 1552.7,626.2 1553.3,624.4 1553.9,632.4 1554.5,633.4 1555.1,626.8 1555.7,632.3 1556.3,623.8 1556.9,623.1 1557.5,625.4 1558.1,621.7 1558.7,621.0 1559.3,620.2 1559.9,613.1 1560.5,624.5 1561.1,622.4 1561.7,624.9 1562.3,624.3 1562.9,620.6 1563.5,618.1 1564.1,584.0 1564.7,555.4 1565.3,545.2 1565.9,535.1 1566.5,480.8 1567.1,409.6 1567.7,317.4 1568.0,314.6 1568.9,378.6 1569.5,418.1 1570.1,462.6 1570.7,538.3 1571.3,499.8 1571.9,457.9 1572.5,429.8 1573.1,417.3 1573.7,408.0 1574.3,400.7 1574.9,392.8 1575.5,431.0 1576.1,471.8 1576.7,515.5 1577.3,587.0 1577.9,600.0 1578.5,608.8 1579.1,618.0 1579.7,621.5 1580.3,616.5 1580.9,609.1 1581.5,609.9 1582.1,604.3 1582.7,602.1 1583.3,602.3 1583.9,599.7 1584.5,596.6 1585.1,593.2 1585.7,589.0 1586.3,583.9 1586.9,571.9 1587.3,569.9 1588.1,576.4 1588.7,580.7 1589.3,568.3 1589.9,545.8 1590.5,543.3 1591.1,543.0 1592.0,539.1 1592.3,539.6 1592.9,545.3 1593.5,559.1 1594.1,578.2 1594.7,589.6 1595.3,601.4 1595.9,592.1 1596.5,580.4 1597.1,547.4 1597.7,516.7 1598.3,496.6 1598.9,477.9 1599.5,464.1 1600.2,447.6 1600.7,461.0 1601.3,477.3 1601.9,502.2 1602.5,532.5 1603.1,569.8 1603.7,584.9 1604.3,599.8 1604.9,609.7 1605.5,618.0 1606.1,621.0 1606.7,622.8 1607.3,622.9 1607.9,624.3 1608.5,631.8 1609.1,632.4 1609.7,627.3 1610.3,635.5 1610.9,633.6 1611.5,634.5 1612.1,632.4 1612.7,626.6 1613.1,626.4 1613.9,633.0 1614.5,634.4 1615.1,635.5 1615.7,630.7 1616.3,635.8 1616.9,637.5 1617.5,632.2 1618.1,636.0 1618.7,626.8 1619.3,628.7 1619.9,632.0 1620.5,625.6 1621.1,627.3 1621.7,618.7 1622.3,618.4 1623.1,618.9 1623.5,618.3 1624.1,625.6 1624.7,620.2 1625.3,628.8 1625.9,630.7 1626.5,630.9 1627.1,626.0 1627.7,633.9 1628.3,626.2 1628.9,634.7 1629.5,627.4 1630.1,626.4 1630.7,630.4 1631.3,623.6 1631.9,619.6 1632.5,622.0 1633.1,616.6 1633.7,620.5 1634.3,620.4 1634.9,614.0 1635.5,620.9 1636.1,618.4 1636.7,626.1 1637.3,623.4 1637.9,630.4 1638.5,630.0 1639.1,622.5 1639.7,629.1 1640.3,629.4 1640.9,625.9 1641.7,617.0 1642.1,619.3 1642.7,618.8 1643.3,624.6 1643.9,621.2 1644.5,628.2 1645.1,626.4 1645.7,621.6 1646.3,627.7 1646.9,625.2 1647.5,631.0 1648.1,627.1 1648.7,634.7 1649.3,631.4 1649.9,635.9 1650.5,630.1 1651.1,630.6 1651.7,628.3 1652.3,627.9 1652.9,627.2 1653.5,630.7 1654.1,624.8 1654.7,631.4 1655.3,626.0 1655.9,625.8 1656.5,630.8 1657.1,623.9 1657.7,632.1 1658.3,626.1 1658.9,634.2 1659.5,636.5 1660.1,630.7 1660.7,632.4 1661.3,626.8 1661.9,620.7 1662.5,615.7 1663.1,611.8 1663.7,603.1 1664.3,597.1 1664.9,591.0 1665.5,591.8 1666.2,590.2 1666.7,594.4 1667.3,597.5 1667.9,604.2 1668.5,608.1 1669.1,616.7 1669.7,617.0 1670.3,624.3 1670.9,617.5 1671.5,623.6 1672.1,621.7 1672.7,612.2 1673.3,607.4 1673.9,614.4 1674.5,610.8 1675.1,614.2 1675.7,620.9 1676.3,622.1 1676.9,625.2 1677.5,621.8 1678.1,625.4 1678.7,624.3 1679.3,623.7 1679.9,633.8 1680.5,629.1 1681.1,635.3 1681.7,631.2 1682.3,637.4 1682.9,629.8 1683.5,638.4 1684.1,629.8 1684.7,628.1 1685.3,634.6 1685.9,629.6 1686.5,633.7 1687.1,627.9 1687.7,632.5 1688.3,624.8 1688.9,626.3 1689.5,632.9 1690.1,632.8 1690.7,625.7 1691.3,631.9 1691.9,625.3 1692.5,623.9 1693.1,624.6 1693.7,621.5 1694.3,623.7 1694.9,617.9 1695.5,616.9 1695.9,617.0 1696.7,620.2 1697.3,625.0 1697.9,618.4 1698.5,614.1 1699.1,610.4 1699.7,600.8 1700.3,590.7 1700.9,580.3 1701.5,561.6 1702.1,537.6 1702.7,516.1 1703.0,515.3 1703.9,530.7 1704.5,540.9 1705.1,553.2 1705.7,568.2 1706.3,586.4 1706.9,590.8 1707.5,589.0 1708.1,590.7 1708.7,596.7 1709.3,603.4 1709.9,607.2 1710.5,613.9 1711.1,615.6 1711.7,617.9 1712.3,621.2 1712.9,617.8 1713.5,623.6 1714.1,621.6 1714.7,628.7 1715.3,628.4 1715.9,631.2 1716.5,628.8 1717.1,634.8 1717.7,634.9 1718.3,630.1 1718.9,631.5 1719.5,636.2 1720.1,633.1 1720.7,633.7 1721.3,632.8 1721.9,636.7 1722.5,633.5 1723.1,634.1 1723.7,627.6 1724.3,631.9 1725.1,624.7 1725.5,625.8 1726.1,629.1 1726.7,625.6 1727.3,627.9 1727.9,627.2 1728.5,620.1 1729.1,616.6 1729.7,614.7 1730.5,608.4 1730.9,609.9 1731.5,614.7 1732.1,614.9 1732.7,624.5 1733.3,619.5 1733.9,624.7 1734.5,619.0 1735.1,621.0 1735.7,628.0 1736.3,626.7 1736.9,623.8 1737.5,629.7 1738.1,623.1 1738.7,621.3 1739.3,622.1 1739.9,618.4 1740.5,618.5 1741.1,614.2 1741.7,615.7 1742.3,610.3 1742.9,613.4 1743.5,607.3 1744.1,613.8 1744.7,612.9 1745.3,609.0 1745.9,618.1 1746.5,616.1 1747.1,624.5 1747.7,619.0 1748.3,622.1 1748.9,624.6 1749.5,626.7 1750.1,625.2 1750.7,630.0 1751.3,632.1 1751.9,624.7 1752.5,625.9 1753.1,630.5 1753.7,625.7 1754.3,628.7 1754.9,624.7 1755.5,630.6 1756.1,625.1 1756.7,630.8 1757.3,624.6 1757.9,630.9 1758.5,633.5 1759.1,628.1 1759.7,633.5 1760.3,630.7 1760.9,636.5 1761.5,632.1 1762.1,637.3 1762.7,631.5 1763.3,629.2 1763.9,628.2 1764.5,628.5 1765.1,623.8 1765.7,618.8 1766.3,619.4 1766.9,612.3 1767.5,608.7 1768.1,614.4 1768.7,614.1 1769.3,606.5 1769.9,615.5 1770.5,615.5 1771.1,623.6 1771.7,623.7 1772.3,628.5 1772.9,630.8 1773.5,629.7 1774.1,636.7 1774.7,632.5 1775.3,638.5 1775.9,638.1 1776.5,632.8 1777.1,639.4 1777.7,634.1 1778.3,634.4 1778.9,636.7 1779.5,628.1 1780.1,626.9 1780.7,626.6 1781.3,626.7 1781.9,631.2 1782.5,630.3 1783.1,626.7 1783.7,617.3 1784.3,611.4 1784.9,598.6 1785.5,583.3 1786.1,582.2 1786.7,579.0 1787.3,574.2 1787.6,573.9 1788.5,581.9 1789.1,589.7 1789.7,592.7 1790.3,597.0 1790.9,599.7 1791.5,603.0 1792.1,603.6 1792.7,607.7 1793.3,609.6 1793.9,614.2 1794.5,622.3 1795.1,619.7 1795.7,622.3 1796.3,617.9 1796.9,624.8 1797.5,621.3 1798.1,627.0 1798.7,621.2 1799.3,621.0 1799.9,626.7 1800.5,621.9 1801.1,622.6 1801.7,622.0 1802.3,630.3 1802.9,623.3 1803.5,630.8 1804.1,624.3 1804.7,630.2 1805.3,631.4 1805.9,625.7 1806.5,631.7 1807.1,625.9 1807.7,632.7 1808.3,627.2 1808.9,630.1 1809.5,621.6 1810.1,623.8 1810.7,621.9 1811.3,612.3 1811.7,611.3 1812.5,615.4 1813.1,620.0 1813.7,626.8 1814.3,623.9 1814.9,630.3 1815.5,629.6 1816.1,626.0 1816.7,631.7 1817.3,629.7 1817.9,626.4 1818.5,631.1 1819.1,627.2 1819.7,633.3 1820.3,628.4 1820.9,632.6 1821.5,627.9 1822.1,634.2 1822.7,628.0 1823.3,629.0 1823.9,623.9 1824.5,625.6 1825.1,624.3 1825.7,618.4 1826.3,619.0 1826.9,611.4 1827.5,611.7 1828.1,608.2 1828.7,612.0 1829.3,610.5 1829.9,609.5 1830.5,603.8 1831.1,608.7 1831.7,604.9 1832.3,611.2 1832.9,615.0 1833.5,613.3 1834.1,615.4 1834.7,621.6 1835.3,624.3 1835.9,627.0 1836.5,624.4 1837.1,631.2 1837.7,626.7 1838.3,626.1 1838.9,623.7 1839.5,625.0 1839.9,622.8 1840.7,627.2 1841.3,625.6 1841.9,631.0 1842.5,626.7 1843.1,631.0 1843.7,623.3 1844.3,622.8 1844.9,629.4 1845.5,624.5 1846.1,629.1 1846.7,626.7 1847.3,631.9 1847.9,625.4 1848.5,626.9 1849.1,626.6 1849.4,624.7 1850.3,631.8 1850.9,632.8 1851.5,630.3 1852.1,632.7 1852.7,626.8 1853.3,620.3 1853.9,614.0 1854.5,596.6 1855.1,579.5 1855.7,559.9 1856.3,539.9 1856.9,528.5 1857.7,520.1 1858.1,520.0 1858.7,521.4 1859.3,535.6 1859.9,550.4 1860.5,569.4 1861.1,590.0 1861.7,605.2 1862.3,617.6 1862.9,624.8 1863.5,632.7 1864.1,632.2 1864.7,636.8 1865.3,631.6 1865.9,636.9 1866.5,628.1 1867.1,633.9 1867.7,627.9 1868.2,626.6 1868.9,630.4 1869.5,626.1 1870.1,627.6 1870.7,633.8 1871.3,628.5 1871.9,634.3 1872.5,626.2 1873.1,625.6 1873.7,625.0 1874.3,630.7 1874.9,630.7 1875.5,623.2 1876.1,630.3 1876.7,625.9 1877.3,629.9 1877.9,629.7 1878.5,625.4 1879.1,626.4 1879.7,634.9 1880.3,627.0 1880.9,632.6 1881.5,628.6 1882.1,632.4 1882.7,634.1 1883.3,626.5 1883.9,632.9 1884.5,626.3 1885.1,633.2 1885.7,629.7 1886.3,628.0 1886.9,635.6 1887.5,627.2 1888.1,632.9 1889.0,627.6 1889.3,627.2 1889.9,633.3 1890.5,626.0 1891.1,633.6 1891.7,634.4 1892.3,630.0 1892.9,635.8 1893.5,637.0 1894.1,636.2 1894.7,630.8 1895.3,634.3 1895.9,628.9 1896.5,631.8 1897.4,627.6 1897.7,629.5 1898.3,630.1 1898.9,634.1 1899.5,629.5 1900.1,638.0 1900.7,637.8 1901.3,640.7 1901.9,633.8 1902.5,640.6 1903.1,633.1 1903.7,638.2 1904.3,630.5 1904.9,635.6 1905.6,628.5 1906.1,627.7 1906.7,633.4 1907.3,634.5 1907.9,628.9 1908.5,636.7 1909.1,630.0 1909.7,634.8 1910.3,635.6 1910.9,630.6 1911.5,634.9 1912.1,628.5 1912.7,633.0 1913.3,628.2 1913.9,630.9 1914.5,626.5 1915.1,629.6 1915.7,620.7 1916.3,625.3 1916.9,618.1 1917.7,617.0 1918.1,619.8 1918.7,625.6 1919.3,627.9 1919.9,623.5 1920.5,627.9 1921.1,620.7 1921.7,620.2 1922.3,615.2 1922.9,614.2 1923.5,609.7 1924.1,600.1 1924.7,588.5 1925.3,579.9 1926.2,569.0 1926.5,569.1 1927.1,571.7 1927.7,574.3 1928.3,579.2 1928.9,583.5 1929.5,589.0 1930.1,594.7 1930.7,599.5 1931.3,604.0 1931.9,611.7 1932.5,615.6 1933.1,621.7 1933.7,625.6 1934.3,625.1 1934.9,629.7 1935.5,632.4 1936.1,626.7 1936.7,627.8 1937.3,628.3 1937.9,633.2 1938.5,625.6 1939.1,630.1 1939.7,629.2 1940.2,622.8 1940.9,631.2 1941.5,632.8 1942.1,626.9 1942.7,637.7 1943.3,628.6 1943.9,635.3 1944.5,626.8 1945.1,632.7 1945.9,624.7 1946.3,624.7 1946.9,631.9 1947.5,628.3 1948.1,632.4 1948.7,625.8 1949.3,631.3 1949.9,623.7 1950.3,622.8 1951.1,629.5 1951.7,626.0 1952.3,632.0 1952.9,625.0 1953.5,628.2 1954.1,619.5 1954.7,622.4 1955.3,615.6 1955.9,617.4 1956.5,618.0 1957.1,619.5 1957.7,615.7 1958.3,618.8 1958.9,623.7 1959.5,619.5 1960.1,626.3 1960.7,622.5 1961.3,628.3 1961.9,631.4 1962.5,625.8 1963.1,630.6 1963.7,626.2 1964.3,633.2 1964.9,631.1 1965.5,631.1 1966.3,626.6 1966.7,628.8 1967.3,630.4 1967.9,634.3 1968.5,630.8 1969.1,631.3 1969.7,627.0 1970.1,624.7 1970.9,629.7 1971.5,626.5 1972.1,629.6 1972.7,633.2 1973.3,626.4 1973.9,629.5 1974.5,624.7 1975.1,621.1 1975.7,614.5 1976.3,605.3 1976.9,600.8 1977.5,593.4 1978.4,586.3 1978.7,586.5 1979.3,594.8 1979.9,602.2 1980.5,605.0 1981.1,613.8 1981.7,613.4 1982.3,618.1 1982.9,616.6 1983.5,623.2 1984.1,620.6 1984.7,625.4 1985.3,619.9 1985.9,621.4 1986.5,621.1 1987.1,624.1 1987.7,616.6 1988.3,622.2 1988.9,615.7 1989.5,622.7 1990.1,619.4 1990.7,625.6 1991.3,619.9 1991.9,625.3 1992.5,620.5 1993.1,622.4 1993.7,623.4 1994.3,617.2 1994.9,623.1 1995.5,624.7 1996.1,618.5 1996.7,627.3 1997.3,622.0 1997.9,628.0 1998.5,628.5 1999.1,622.9 1999.7,625.3 2000.3,631.0 2000.9,626.1 2001.5,631.9 2002.1,628.4 2002.7,635.7 2003.3,635.1 2003.9,629.8 2004.5,636.5 2005.1,628.9 2005.7,627.2 2006.3,629.7 2006.9,625.7 2007.5,624.1 2008.1,624.4 2008.7,619.8 2009.3,617.9 2009.9,613.3 2010.5,603.3 2011.1,591.6 2011.7,580.7 2012.3,563.9 2012.7,563.3 2013.5,567.7 2014.1,572.3 2014.7,573.1 2015.3,573.9 2015.9,574.8 2016.5,582.0 2017.1,590.1 2017.7,594.7 2018.3,599.9 2018.9,605.6 2019.5,607.4 2020.1,613.1 2020.7,614.9 2021.3,618.4 2021.9,625.8 2022.5,629.7 2023.1,626.5 2023.7,632.0 2024.3,630.3 2024.9,634.8 2025.5,630.3 2026.1,629.7 2026.7,637.0 2027.3,630.5 2027.9,635.5 2028.5,628.7 2029.1,633.6 2029.7,628.3 2030.3,624.7 2030.9,620.8 2031.5,623.0 2032.1,617.4 2032.7,621.2 2033.3,614.9 2033.8,614.1 2034.5,621.0 2035.1,615.9 2035.7,618.3 2036.3,624.7 2036.9,622.0 2037.5,623.4 2038.1,629.4 2038.7,628.0 2039.3,634.5 2039.9,630.1 2040.5,636.4 2041.1,629.5 2041.7,635.8 2042.3,631.0 2042.9,634.0 2043.5,631.2 2044.4,627.6 2044.7,629.2 2045.3,634.1 2045.9,627.4 2046.5,631.6 2047.1,635.5 2047.7,630.5 2048.3,637.1 2048.9,630.4 2049.5,629.4 2050.1,635.0 2050.7,630.5 2051.3,635.1 2051.9,629.2 2052.5,634.7 2053.1,628.8 2053.7,628.5 2054.3,633.2 2054.9,627.2 2055.5,626.2 2056.1,632.5 2056.7,626.1 2057.3,626.8 2057.9,632.2 2058.5,628.7 2059.1,632.6 2059.7,627.2 2060.3,633.5 2060.9,627.5 2061.5,634.4 2062.1,635.2 2062.7,636.4 2063.3,635.8 2063.9,628.9 2064.5,632.8 2065.1,621.4 2065.5,618.9 2066.3,626.3 2066.9,633.3 2067.5,629.2 2068.1,635.4 2068.7,637.4 2069.3,631.8 2069.9,636.6 2070.5,636.8 2071.1,629.0 2071.7,635.0 2072.3,632.7 2072.9,626.6 2073.7,627.6 2074.1,628.3 2074.7,634.4 2075.3,632.4 2075.9,638.3 2076.5,633.6 2077.1,640.0 2077.7,639.3 2078.3,633.7 2078.9,638.5 2079.5,632.3 2080.1,636.8 2080.7,629.2 2081.3,635.4 2081.9,627.8 2082.5,626.3 2083.1,627.1 2083.7,631.7 2084.3,625.4 2084.9,627.2 2085.5,623.4 2086.1,626.6 2086.7,618.9 2087.2,619.9 2087.9,625.6 2088.5,621.9 2089.1,627.7 2089.7,625.8 2090.3,631.6 2090.9,629.9 2091.5,626.3 2092.1,632.3 2092.7,627.7 2093.3,628.7 2093.9,630.1 2094.5,637.6 2095.1,632.3 2095.7,632.1 2096.3,638.6 2096.9,637.7 2097.5,637.8 2098.1,631.0 2098.7,634.1 2099.3,628.9 2099.9,630.2 2100.5,624.5 2101.1,629.7 2101.7,620.9 2102.3,626.4 2102.9,618.9 2103.5,626.8 2104.1,622.1 2104.7,629.7 2105.3,626.5 2105.9,632.2 2106.5,629.5 2107.1,633.4 2107.7,628.9 2108.3,634.3 2108.9,632.8 2109.5,628.6 2110.1,635.4 2110.7,629.7 2111.3,628.9 2111.9,637.1 2112.5,632.7 2113.1,639.9 2113.7,637.9 2114.3,635.2 2114.9,640.9 2115.5,641.3 2116.1,634.2 2116.7,639.5 2117.3,634.1 2117.9,637.0 2118.5,634.8 2119.1,628.9 2119.7,634.9 2120.3,634.1 2120.9,628.0 2121.3,627.6 2122.1,635.3 2122.7,635.4 2123.3,637.2 2123.9,637.0 2124.5,630.8 2125.1,637.5 2125.7,631.5 2126.3,638.4 2126.8,641.0"/>
<rect x="1246" y="37.6" width="49.5" height="49.6" fill="#fff" stroke="#000" stroke-width="1.9"/>
<text x="1271.8" y="73.4" font-size="29" text-anchor="middle">b</text>
<text x="1576" y="758.2" font-size="32.5">2-Theta</text>
<text x="1694.0" y="758.2" font-size="32.5" textLength="12.6" lengthAdjust="spacingAndGlyphs">(</text>
<text x="1706.5" y="746.1" font-size="21.3" textLength="13.6" lengthAdjust="spacingAndGlyphs">0</text>
<text x="1719.9" y="758.2" font-size="32.5" textLength="12.6" lengthAdjust="spacingAndGlyphs">)</text>
<text transform="translate(1133.4 380.3) rotate(-90)" font-size="33.4" text-anchor="middle">Intensiity (Counts)</text>
<text transform="translate(1268.4 568.9) rotate(-90)" font-size="26.1" letter-spacing="0" word-spacing="3.5" textLength="161.8" lengthAdjust="spacing">Quartz, (SiO<tspan font-size="17.5" dy="5">2</tspan><tspan dy="-5">)</tspan></text>
<text transform="translate(1362.1 581.4) rotate(-90)" font-size="26.1" letter-spacing="0" word-spacing="3.5" textLength="161.6" lengthAdjust="spacing">Quartz, (SiO<tspan font-size="17.5" dy="5">2</tspan><tspan dy="-5">)</tspan></text>
<text transform="translate(1455.4 591.4) rotate(-90)" font-size="26.1" letter-spacing="0" word-spacing="3.5" textLength="287.2" lengthAdjust="spacing">Tricalcium Silicate, (C<tspan font-size="17.5" dy="5">3</tspan><tspan dy="-5">S)</tspan></text>
<text transform="translate(1534.3 377.4) rotate(-90)" font-size="26.1" letter-spacing="0" word-spacing="3.5" textLength="287.4" lengthAdjust="spacing">Tricalcium Silicate, (C<tspan font-size="17.5" dy="5">3</tspan><tspan dy="-5">S)</tspan></text>
<text transform="translate(1571.8 313.2) rotate(-90)" font-size="26.1" letter-spacing="0" word-spacing="3.5" textLength="279.0" lengthAdjust="spacing">Tricalcium Silicate,(C<tspan font-size="17.5" dy="5">3</tspan><tspan dy="-5">S)</tspan></text>
<text transform="translate(1607.3 439.0) rotate(-90)" font-size="26.1" letter-spacing="0" word-spacing="3.5" textLength="287.0" lengthAdjust="spacing">Tricalcium Silicate, (C<tspan font-size="17.5" dy="5">3</tspan><tspan dy="-5">S)</tspan></text>
<text transform="translate(1670.7 581.3) rotate(-90)" font-size="26.1" letter-spacing="0" word-spacing="3.5" textLength="278.0" lengthAdjust="spacing">Dicalcium Silicate, (C<tspan font-size="17.5" dy="5">2</tspan><tspan dy="-5">S)</tspan></text>
<text transform="translate(1709.1 500.9) rotate(-90)" font-size="26.1" letter-spacing="0" word-spacing="3.5" textLength="286.9" lengthAdjust="spacing">Tricalcium Silicate, (C<tspan font-size="17.5" dy="5">3</tspan><tspan dy="-5">S)</tspan></text>
<text transform="translate(1794.0 558.5) rotate(-90)" font-size="26.1" letter-spacing="0" word-spacing="3.5" textLength="278.2" lengthAdjust="spacing">Dicalcium Silicate, (C<tspan font-size="17.5" dy="5">2</tspan><tspan dy="-5">S)</tspan></text>
<text transform="translate(1864.8 504.4) rotate(-90)" font-size="26.1" letter-spacing="0" word-spacing="3.5" textLength="320.2" lengthAdjust="spacing">Tricalcium Aluminate (C<tspan font-size="17.5" dy="5">3</tspan><tspan dy="-5">A)</tspan></text>
<text transform="translate(1934.6 560.7) rotate(-90)" font-size="26.1" letter-spacing="0" word-spacing="3.5" textLength="320.4" lengthAdjust="spacing">Tricalcium Aluminate (C<tspan font-size="17.5" dy="5">3</tspan><tspan dy="-5">A)</tspan></text>
<text transform="translate(1985.0 582.3) rotate(-90)" font-size="26.1" letter-spacing="0" word-spacing="3.5" textLength="414.4" lengthAdjust="spacing">Tetracalcium Aluminoferrite (C<tspan font-size="17.5" dy="5">4</tspan><tspan dy="-5">AF)</tspan></text>
<text transform="translate(2020.4 555.6) rotate(-90)" font-size="26.1" letter-spacing="0" word-spacing="3.5" textLength="413.5" lengthAdjust="spacing">Tetracalcium Aluminoferrite (C<tspan font-size="17.5" dy="5">4</tspan><tspan dy="-5">AF)</tspan></text>
</svg>
</body>
</html>
